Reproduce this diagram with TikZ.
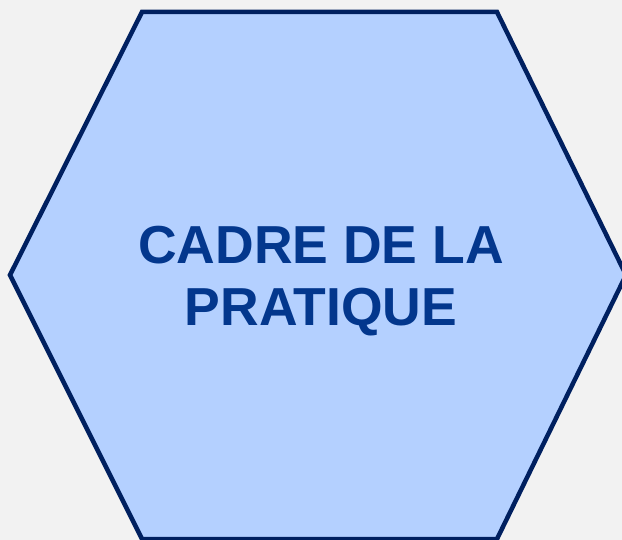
\documentclass[tikz,border=0pt]{standalone}
\usepackage{fontspec}
\setmainfont{Liberation Sans}
\definecolor{bgGray}{HTML}{F2F2F2}
\definecolor{hexFill}{HTML}{B4D0FF}
\definecolor{hexLine}{HTML}{002060}
\definecolor{hexText}{HTML}{03378D}
\tikzset{
    hexside/.style={draw=hexLine, fill=hexFill, line width=4.5pt, line join=miter},
    hexlabel/.style={text=hexText, font=\bfseries\fontsize{53.5}{62}\selectfont, align=center, inner sep=0pt}
}
\begin{document}
\begin{tikzpicture}[x=1pt,y=-1pt]
    \fill[bgGray] (0,0) rectangle (622,540);
    \useasboundingbox (0,0) rectangle (622,540);

    \coordinate (TL) at (142,12);
    \coordinate (TR) at (497,12);
    \coordinate (R) at (626,275);
    \coordinate (BR) at (497,539);
    \coordinate (BL) at (142,539);
    \coordinate (L) at (10,275);

    \path [hexside] (TL) -- (TR) -- (R) -- (BR) -- (BL) -- (L) -- cycle;

    \node [hexlabel] (title) at (321,281) {CADRE DE LA\\PRATIQUE};
\end{tikzpicture}
\end{document}
